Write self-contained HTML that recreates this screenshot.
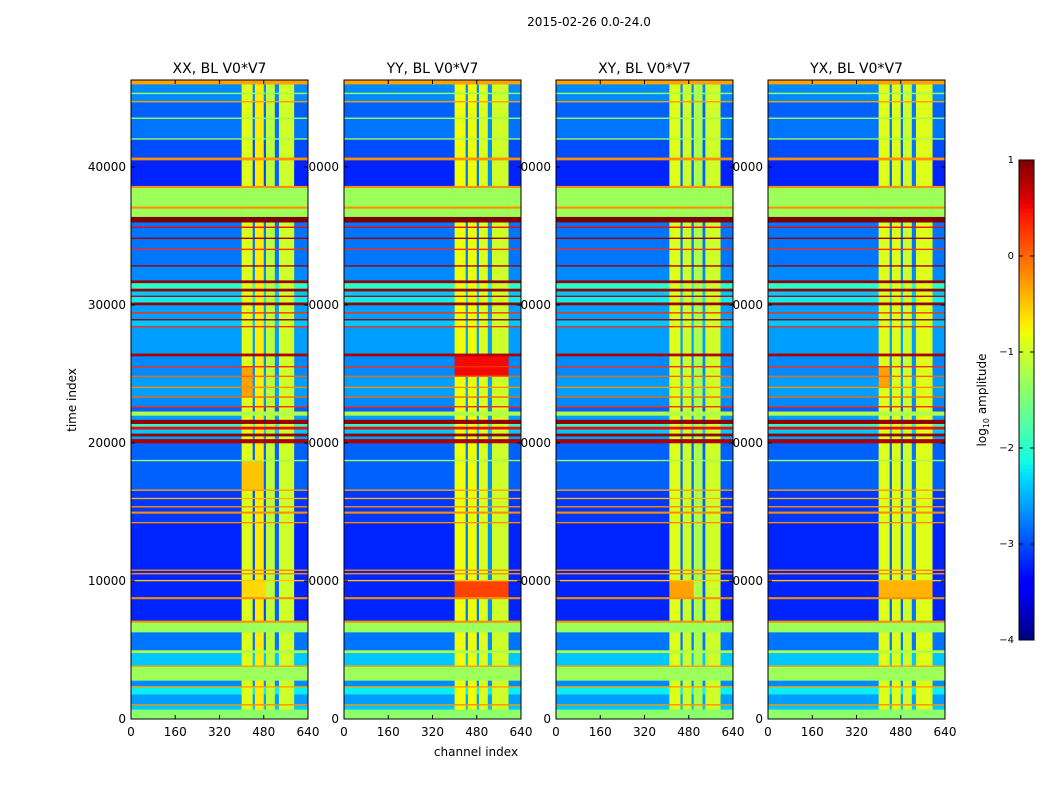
<!DOCTYPE html>
<html><head><meta charset="utf-8"><style>
html,body{margin:0;padding:0;background:#fff;}
#wrap{position:relative;width:1050px;height:800px;overflow:hidden;font-family:"DejaVu Sans","Liberation Sans",sans-serif;}
svg{position:absolute;left:0;top:0;}
</style></head><body>
<div id="wrap">
<svg id="svg" width="1050" height="800"></svg>
</div>
<script>
// ---- data ----
const panelTitles = ["XX, BL V0*V7","YY, BL V0*V7","XY, BL V0*V7","YX, BL V0*V7"];
const xTicks = [0,160,320,480,640];
const yTicks = [0,10000,20000,30000,40000];
const cbTicks = [1,0,-1,-2,-3,-4];
// time bands: [tStart, tEnd, log10 value, flat(1 = overrides channel structure)]
const rowBands = [
[0,700,-1.4,1],[700,1000,-2.4,0],[1000,1100,-0.2,0],[1100,1800,-2.6,0],[1800,2300,-2.2,0],
[2300,2400,-0.3,1],[2400,2800,-2.7,0],[2800,3800,-1.3,1],[3800,3900,-0.3,1],[3900,4800,-2.4,0],
[4800,5000,-1.2,1],[5000,6300,-2.8,0],[6300,7000,-1.3,1],[7000,7150,-0.2,1],[7150,8700,-3.2,0],
[8700,8850,-0.2,1],[8850,10000,-3.2,0],[10000,10100,-0.5,1],[10100,10500,-3.2,0],[10500,10600,-0.2,1],
[10600,10750,-3.2,0],[10750,10850,-0.2,1],[10850,14200,-3.2,0],[14200,14300,-0.2,1],[14300,14900,-3.1,0],
[14900,15050,-0.2,1],[15050,15350,-3.1,0],[15350,15450,-0.2,1],[15450,15950,-3.1,0],[15950,16050,-0.4,1],
[16050,16550,-3.1,0],[16550,16650,-0.3,1],[16650,18700,-2.9,0],[18700,18800,-1.3,1],[18800,20000,-2.9,0],
[20000,20300,0.8,1],[20300,20500,-2.6,0],[20500,20700,0.9,1],[20700,21000,-2.4,0],[21000,21200,0.5,1],
[21200,21400,-2.0,0],[21400,21700,0.9,1],[21700,22000,-2.6,0],[22000,22300,-1.2,1],[22300,22600,-2.9,0],
[22600,22700,0.3,1],[22700,23300,-2.7,0],[23300,23400,0.0,1],[23400,24000,-2.6,0],[24000,24100,-0.2,1],
[24100,24800,-2.6,0],[24800,24900,0.0,1],[24900,25500,-2.7,0],[25500,25600,0.3,1],[25600,26300,-2.7,0],
[26300,26500,0.8,1],[26500,28400,-2.6,0],[28400,28500,0.3,1],[28500,28900,-2.4,0],[28900,29000,0.9,1],
[29000,29400,-2.6,0],[29400,29500,0.3,1],[29500,30000,-2.6,0],[30000,30200,0.9,1],[30200,30600,-2.2,0],
[30600,30700,0.7,1],[30700,31000,-2.4,0],[31000,31200,0.9,1],[31200,31600,-2.0,0],[31600,31800,0.9,1],
[31800,32800,-2.7,0],[32800,32900,0.9,1],[32900,34000,-2.8,0],[34000,34100,0.3,1],[34100,34800,-2.8,0],
[34800,34900,0.9,1],[34900,35600,-2.8,0],[35600,35700,0.5,1],[35700,36000,-2.8,0],[36000,36400,1.0,1],
[36400,37000,-1.3,1],[37000,37150,-0.2,1],[37150,38500,-1.3,1],[38500,38650,-0.2,1],[38650,40500,-3.2,0],
[40500,40700,-0.2,1],[40700,42000,-3.0,0],[42000,42100,-1.3,1],[42100,43500,-2.8,0],[43500,43600,-1.3,1],
[43600,44700,-2.9,0],[44700,44800,-0.3,1],[44800,45300,-2.7,0],[45300,45400,-1.3,1],[45400,46000,-2.7,0],
[46000,46300,-0.3,1]];
// channel bands per panel: [chStart, chEnd, log10 level]
const colsXX = [[0,400,-9],[400,440,-0.9],[440,448,-3.0],[448,480,-0.7],[480,488,-3.0],[488,520,-1.1],[520,535,-2.9],[535,590,-1.0],[590,640,-9]];
const colsYY = [[0,400,-9],[400,440,-0.8],[440,448,-2.8],[448,480,-0.8],[480,488,-2.8],[488,520,-0.9],[520,535,-2.7],[535,595,-1.0],[595,640,-9]];
const colsXY = [[0,410,-9],[410,450,-0.9],[450,458,-2.9],[458,490,-1.0],[490,498,-2.9],[498,530,-1.2],[530,540,-2.9],[540,595,-1.0],[595,640,-9]];
const colsYX = [[0,400,-9],[400,440,-0.9],[440,448,-2.9],[448,480,-0.9],[480,488,-2.9],[488,520,-1.0],[520,535,-2.8],[535,595,-0.9],[595,640,-9]];
// boost regions: [tStart, tEnd, chStart, chEnd, level]
const boostXX = [[7500,10000,400,500,-0.6],[16500,19000,400,480,-0.5],[23000,26000,400,440,-0.3]];
const boostYY = [[7500,10300,400,600,0.2],[24500,26300,400,600,0.5]];
const boostXY = [[7500,10000,400,520,-0.3]];
const boostYX = [[7500,10000,400,600,-0.4],[24000,26000,400,440,-0.3]];
const panelCols = [colsXX,colsYY,colsXY,colsYX];
const panelBoost = [boostXX,boostYY,boostXY,boostYX];

// ---- layout ----
const panelX = [131,344,556,768], PW=177, PT=80, PB=719, TMAX=46300, CMAX=640;
const vmin=-4, vmax=1;
const NS="http://www.w3.org/2000/svg";
const svg=document.getElementById('svg');
function el(tag,attrs,parent){const e=document.createElementNS(NS,tag);for(const k in attrs)e.setAttribute(k,attrs[k]);(parent||svg).appendChild(e);return e;}
function interp(pts,x){for(let i=1;i<pts.length;i++){if(x<=pts[i][0]){const a=pts[i-1],b=pts[i];return a[1]+(b[1]-a[1])*(x-a[0])/(b[0]-a[0]);}}return pts[pts.length-1][1];}
const JR=[[0,0],[0.35,0],[0.66,1],[0.89,1],[1,0.5]];
const JG=[[0,0],[0.125,0],[0.375,1],[0.64,1],[0.91,0],[1,0]];
const JB=[[0,0.5],[0.11,1],[0.34,1],[0.65,0],[1,0]];
function jet(v){let x=(v-vmin)/(vmax-vmin);x=Math.max(0,Math.min(1,x));
 return `rgb(${Math.round(interp(JR,x)*255)},${Math.round(interp(JG,x)*255)},${Math.round(interp(JB,x)*255)})`;}
const yScale=t=>PB-(t/TMAX)*(PB-PT);
const xScale=(p,c)=>panelX[p]+(c/CMAX)*PW;

panelX.forEach((px,p)=>{
 yTicks.forEach(t=>{const tx=el('text',{x:px-5,y:yScale(t)+4,'text-anchor':'end','font-size':12,fill:'#000'});tx.textContent=t;
  
  });
});
panelX.forEach((px,p)=>{
 const g=el('g',{});
 
 
 el('rect',{x:px-4,y:PT,width:PW+4,height:PB-PT,fill:'#fff'},g);
 el('rect',{x:px,y:PT,width:PW,height:PB-PT,fill:jet(-3.2)},g);
 const cols=panelCols[p], boosts=panelBoost[p];
 rowBands.forEach(rb=>{
  const [t0,t1,v,flat]=rb;
  const y0=yScale(t1), y1=yScale(t0);
  cols.forEach(cb=>{
   const [c0,c1,lv]=cb;
   let val = flat ? v : Math.max(v,lv);
   if(!flat) boosts.forEach(bs=>{ if(t0>=bs[0]&&t1<=bs[1]&&c0>=bs[2]&&c1<=bs[3]&&lv>-5) val=Math.max(val,bs[4]); });
   const r=el('rect',{x:xScale(p,c0),y:y0,width:xScale(p,c1)-xScale(p,c0)+0.3,height:Math.max(0.8,y1-y0+0.3),fill:jet(val)},g);
   
   
  });
 });
 el('rect',{x:px,y:PT,width:PW,height:PB-PT,fill:'none',stroke:'#000','stroke-width':1},g);
 xTicks.forEach(c=>{const x=xScale(p,c);
  el('line',{x1:x,x2:x,y1:PB,y2:PB-4,stroke:'#000'},g);el('line',{x1:x,x2:x,y1:PT,y2:PT+4,stroke:'#000'},g);
  const tx=el('text',{x:x,y:PB+17,'text-anchor':'middle','font-size':12,fill:'#000'});tx.textContent=c;
  
  });
 yTicks.forEach(t=>{const y=yScale(t);
  el('line',{x1:px,x2:px+4,y1:y,y2:y,stroke:'#000'},g);el('line',{x1:px+PW,x2:px+PW-4,y1:y,y2:y,stroke:'#000'},g);});
 const tt=el('text',{x:px+PW/2,y:73,'text-anchor':'middle','font-size':14,fill:'#000'});tt.textContent=panelTitles[p];
 
 
});
let t=el('text',{x:589,y:26,'text-anchor':'middle','font-size':12});t.textContent="2015-02-26 0.0-24.0";

t=el('text',{x:476,y:756,'text-anchor':'middle','font-size':12});t.textContent="channel index";

t=el('text',{x:76,y:400,'text-anchor':'middle','font-size':12,transform:'rotate(-90 76 400)'});t.textContent="time index";

const CBX=1019,CBW=15,CBT=160,CBB=640;
const cbScale=v=>CBB-(v-vmin)/(vmax-vmin)*(CBB-CBT);
const cg=el('g',{});


for(let i=0;i<120;i++){const v0=vmin+i*(vmax-vmin)/120,v1=vmin+(i+1)*(vmax-vmin)/120;
 el('rect',{x:CBX,y:cbScale(v1),width:CBW,height:cbScale(v0)-cbScale(v1)+0.5,fill:jet((v0+v1)/2)},cg);}
el('rect',{x:CBX,y:CBT,width:CBW,height:CBB-CBT,fill:'none',stroke:'#000'},cg);
cbTicks.forEach(v=>{const y=cbScale(v);
 el('line',{x1:CBX,x2:CBX+4,y1:y,y2:y,stroke:'#000'},cg);el('line',{x1:CBX+CBW-4,x2:CBX+CBW,y1:y,y2:y,stroke:'#000'},cg);
 const tx=el('text',{x:1014,y:y+3,'text-anchor':'end','font-size':10},cg);tx.textContent=(v<0?'\u2212'+(-v):v);
 
 });
t=el('text',{x:986,y:400,'text-anchor':'middle','font-size':12,transform:'rotate(-90 986 400)'});
t.innerHTML='log<tspan font-size="8" dy="3">10</tspan><tspan dy="-3"> amplitude</tspan>';

</script>
</body></html>
